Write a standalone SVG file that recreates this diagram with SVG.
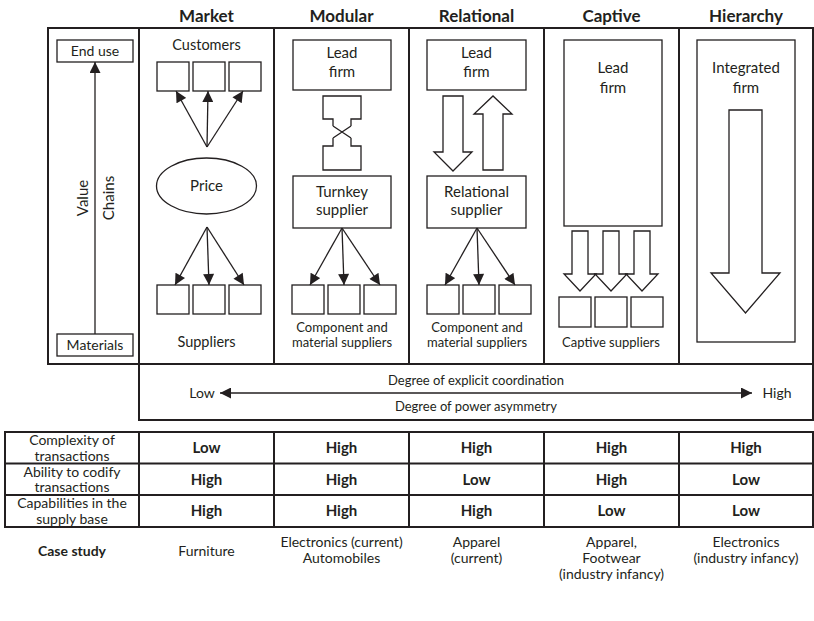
<svg xmlns="http://www.w3.org/2000/svg" width="814" height="621" viewBox="0 0 814 621">
<defs>
<style>
text{font-family:Lato,"Open Sans","Liberation Sans",sans-serif;font-size:13px;fill:#231f20;text-anchor:middle}
.h{font-weight:bold;font-size:17px}
.v{font-weight:bold;font-size:15px}
.cs{font-weight:bold;font-size:14px}
.m{font-size:15px}
.s{font-size:14.5px}
.tl{font-size:14px}
.frame{fill:none;stroke:#231f20;stroke-width:2}
.box{fill:#fff;stroke:#231f20;stroke-width:1.3}
.ln{fill:none;stroke:#231f20;stroke-width:1.3}
.arr{fill:none;stroke:#231f20;stroke-width:1.3;marker-end:url(#ah)}
</style>
<marker id="ah" viewBox="0 0 10 10" refX="10" refY="5" markerWidth="12" markerHeight="11" markerUnits="userSpaceOnUse" orient="auto-start-reverse">
<path d="M0,0 L10,5 L0,10 Z" fill="#231f20"/>
</marker>
</defs>

<g id="headers">
<text class="h" x="206.5" y="22">Market</text>
<text class="h" x="341.5" y="22">Modular</text>
<text class="h" x="476.5" y="22">Relational</text>
<text class="h" x="611.5" y="22">Captive</text>
<text class="h" x="746" y="22">Hierarchy</text>
</g>

<g id="frame">
<path class="frame" d="M48,28 H813 V364 H48 Z M139,28 V364 M274,28 V364 M409,28 V364 M544,28 V364 M679,28 V364"/>
<path class="frame" d="M139,364 V420 H813 V364"/>
</g>

<g id="value-chains">
<rect class="box" x="57" y="40" width="76" height="22"/>
<text class="tl" x="95" y="56">End use</text>
<rect class="box" x="57" y="334" width="76" height="22"/>
<text class="tl" x="95" y="350">Materials</text>
<text class="m" transform="translate(88,198) rotate(-90)">Value</text>
<text class="m" transform="translate(114,198) rotate(-90)">Chains</text>
</g>

<g id="market">
<text class="s" x="206.5" y="50">Customers</text>
<rect class="box" x="157" y="62" width="32" height="29"/>
<rect class="box" x="193" y="62" width="32" height="29"/>
<rect class="box" x="229" y="62" width="32" height="29"/>
<ellipse class="box" cx="206.5" cy="186" rx="50" ry="28"/>
<text class="m" x="206.5" y="191">Price</text>
<rect class="box" x="157" y="285" width="32" height="29"/>
<rect class="box" x="193" y="285" width="32" height="29"/>
<rect class="box" x="229" y="285" width="32" height="29"/>
<text class="s" x="206.5" y="347">Suppliers</text>
</g>

<g id="modular">
<rect class="box" x="293" y="40" width="98" height="50"/>
<text class="m" x="342" y="58">Lead</text>
<text class="m" x="342" y="77">firm</text>
<path class="ln" d="M333,126 V119 H323 V96 H361 V119 H351 V126 M333,126 L351,138 M351,126 L333,138 M333,138 V146 H323 V170 H361 V146 H351 V138"/>
<rect class="box" x="293" y="176" width="98" height="52"/>
<text class="m" x="342" y="197">Turnkey</text>
<text class="m" x="342" y="215">supplier</text>
<rect class="box" x="292" y="285" width="32" height="29"/>
<rect class="box" x="328" y="285" width="32" height="29"/>
<rect class="box" x="364" y="285" width="32" height="29"/>
<text x="342" y="332">Component and</text>
<text x="342" y="347">material suppliers</text>
</g>

<g id="relational">
<rect class="box" x="427" y="40" width="99" height="50"/>
<text class="m" x="476.5" y="58">Lead</text>
<text class="m" x="476.5" y="77">firm</text>
<path class="box" d="M443,96 H463 V152 H472 L453,171 L434,152 H443 Z"/>
<path class="box" d="M483,170 V114 H474 L493,96 L512,114 H503 V170 Z"/>
<rect class="box" x="427" y="176" width="99" height="52"/>
<text class="m" x="476.5" y="197">Relational</text>
<text class="m" x="476.5" y="215">supplier</text>
<rect class="box" x="427" y="285" width="32" height="29"/>
<rect class="box" x="463" y="285" width="32" height="29"/>
<rect class="box" x="499" y="285" width="32" height="29"/>
<text x="477" y="332">Component and</text>
<text x="477" y="347">material suppliers</text>
</g>

<g id="captive">
<rect class="box" x="564" y="40" width="98" height="186"/>
<text class="m" x="613" y="73">Lead</text>
<text class="m" x="613" y="93">firm</text>
<path class="box" d="M572,231 H588 V274 H596 L580,291 L564,274 H572 Z"/>
<path class="box" d="M603,231 H619 V274 H627 L611,291 L595,274 H603 Z"/>
<path class="box" d="M634,231 H650 V274 H658 L642,291 L626,274 H634 Z"/>
<rect class="box" x="559" y="297" width="32" height="30"/>
<rect class="box" x="595" y="297" width="32" height="30"/>
<rect class="box" x="631" y="297" width="32" height="30"/>
<text x="611" y="347">Captive suppliers</text>
</g>

<g id="hierarchy">
<rect class="box" x="697" y="40" width="98" height="302"/>
<text class="m" x="746" y="73">Integrated</text>
<text class="m" x="746" y="93">firm</text>
<path class="box" d="M729,110 H762 V273 H780 L745.5,313 L711,273 H729 Z"/>
</g>

<g id="connectors">
<line class="arr" x1="95" y1="334" x2="95" y2="62"/>
<line class="arr" x1="207" y1="147" x2="176" y2="91"/>
<line class="arr" x1="207" y1="147" x2="208" y2="91"/>
<line class="arr" x1="207" y1="147" x2="243" y2="91"/>
<line class="arr" x1="207" y1="227" x2="175" y2="285"/>
<line class="arr" x1="207" y1="227" x2="209" y2="285"/>
<line class="arr" x1="207" y1="227" x2="244" y2="285"/>
<line class="arr" x1="342" y1="228" x2="310" y2="285"/>
<line class="arr" x1="342" y1="228" x2="344" y2="285"/>
<line class="arr" x1="342" y1="228" x2="380" y2="285"/>
<line class="arr" x1="477" y1="228" x2="445" y2="285"/>
<line class="arr" x1="477" y1="228" x2="479" y2="285"/>
<line class="arr" x1="477" y1="228" x2="515" y2="285"/>
<line class="ln" x1="220" y1="393" x2="752" y2="393" marker-start="url(#ah)" marker-end="url(#ah)"/>
</g>

<g id="scale">
<text x="476" y="385">Degree of explicit coordination</text>
<text class="tl" x="202" y="398">Low</text>
<text class="tl" x="777" y="398">High</text>
<text x="476" y="411">Degree of power asymmetry</text>
</g>

<g id="table">
<path class="frame" d="M5,432 H813 V527 H5 Z M5,463.5 H813 M5,495 H813 M139,432 V527 M274,432 V527 M409,432 V527 M544,432 V527 M679,432 V527"/>
<text class="tl" x="72" y="445">Complexity of</text>
<text class="tl" x="72" y="460.5">transactions</text>
<text class="tl" x="72" y="476.5">Ability to codify</text>
<text class="tl" x="72" y="492">transactions</text>
<text class="tl" x="72" y="508">Capabilities in the</text>
<text class="tl" x="72" y="523.5">supply base</text>
<text class="v" x="206.5" y="453">Low</text>
<text class="v" x="341.5" y="453">High</text>
<text class="v" x="476.5" y="453">High</text>
<text class="v" x="611.5" y="453">High</text>
<text class="v" x="746" y="453">High</text>
<text class="v" x="206.5" y="485">High</text>
<text class="v" x="341.5" y="485">High</text>
<text class="v" x="476.5" y="485">Low</text>
<text class="v" x="611.5" y="485">High</text>
<text class="v" x="746" y="485">Low</text>
<text class="v" x="206.5" y="516">High</text>
<text class="v" x="341.5" y="516">High</text>
<text class="v" x="476.5" y="516">High</text>
<text class="v" x="611.5" y="516">Low</text>
<text class="v" x="746" y="516">Low</text>
</g>

<g id="case-study">
<text class="cs" x="72" y="556">Case study</text>
<text class="tl" x="206.5" y="556">Furniture</text>
<text class="tl" x="341.5" y="547">Electronics (current)</text>
<text class="tl" x="341.5" y="563">Automobiles</text>
<text class="tl" x="476.5" y="547">Apparel</text>
<text class="tl" x="476.5" y="563">(current)</text>
<text class="tl" x="611.5" y="547">Apparel,</text>
<text class="tl" x="611.5" y="563">Footwear</text>
<text class="tl" x="611.5" y="579">(industry infancy)</text>
<text class="tl" x="746" y="547">Electronics</text>
<text class="tl" x="746" y="563">(industry infancy)</text>
</g>
</svg>
